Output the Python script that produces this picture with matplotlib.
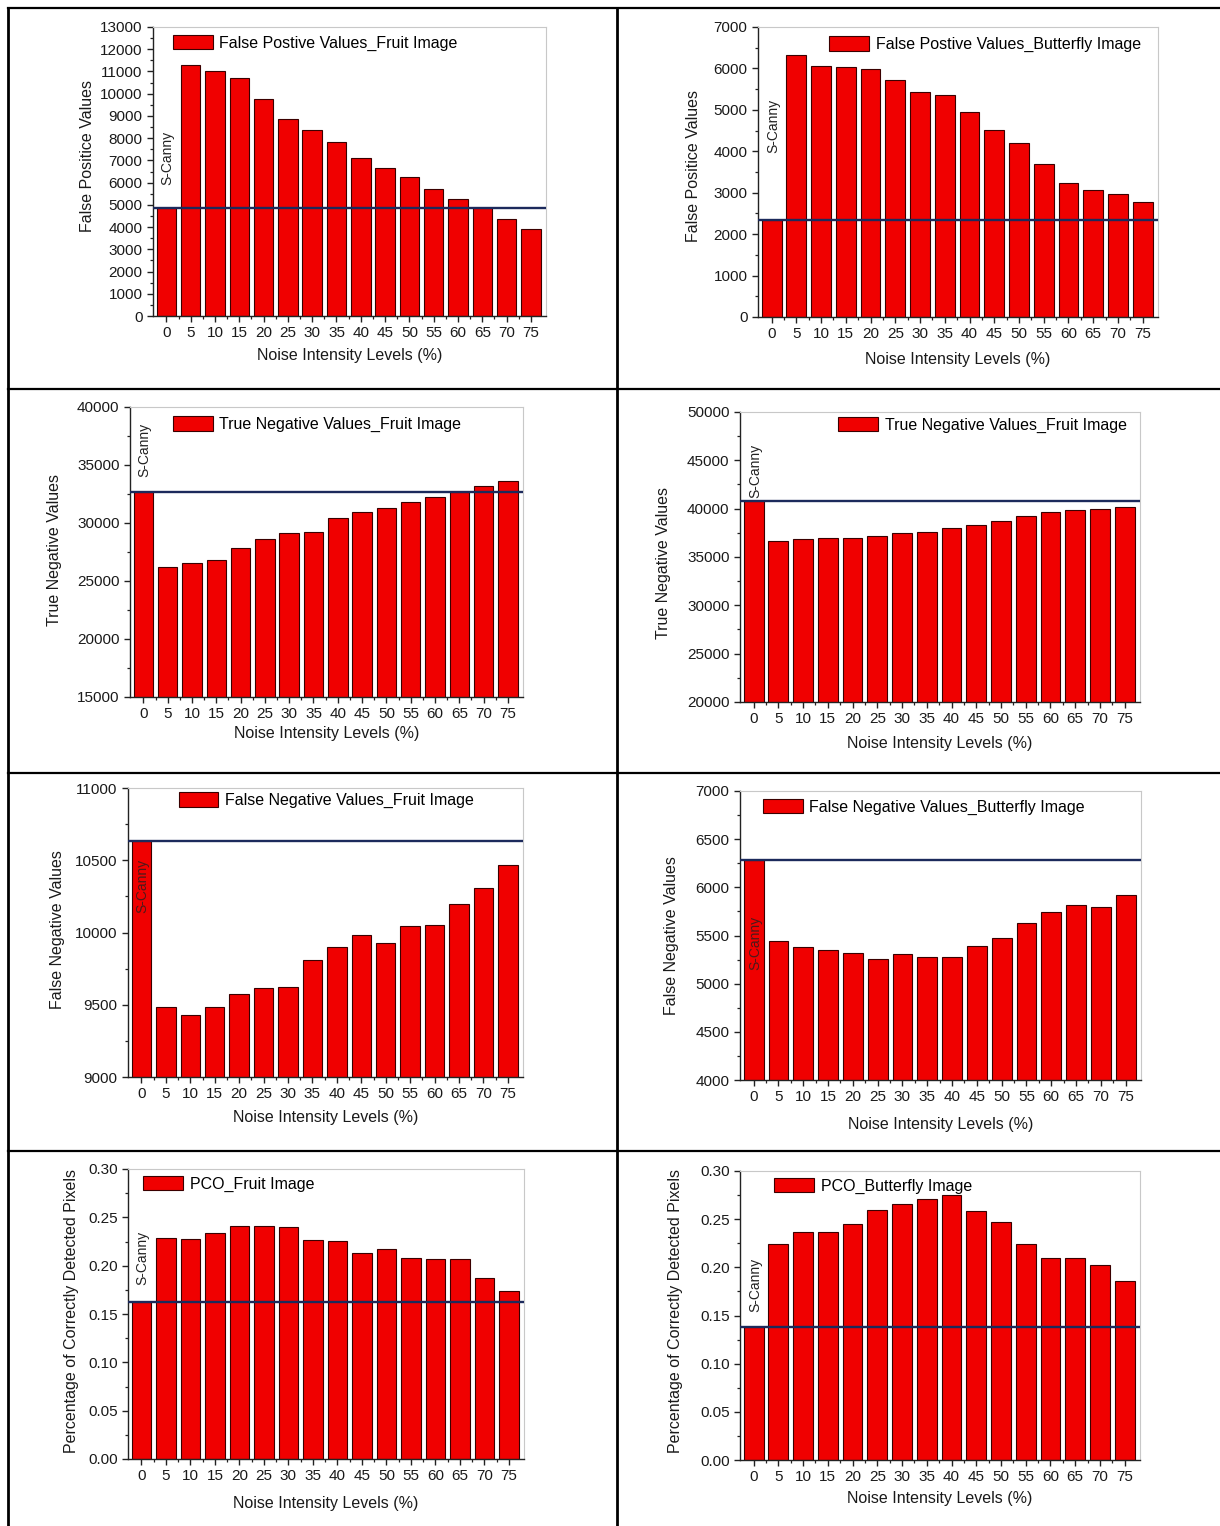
import matplotlib
matplotlib.use('Agg')
import matplotlib.pyplot as plt
from matplotlib.ticker import MultipleLocator, FixedLocator, FormatStrFormatter
from matplotlib.lines import Line2D
import numpy as np

plt.rcParams['font.family'] = ['Liberation Sans', 'DejaVu Sans']

# ---------------- data ----------------
noise_levels = [0, 5, 10, 15, 20, 25, 30, 35, 40, 45, 50, 55, 60, 65, 70, 75]

fp_fruit = [4870, 11280, 11000, 10700, 9750, 8870, 8370, 7830, 7120, 6640,
            6240, 5720, 5270, 4850, 4370, 3900]
fp_butterfly = [2350, 6320, 6070, 6040, 5990, 5730, 5420, 5370, 4960, 4520,
                4200, 3690, 3230, 3060, 2970, 2770]
tn_fruit = [32700, 26250, 26520, 26840, 27820, 28650, 29170, 29260, 30440, 30930,
            31300, 31820, 32280, 32710, 33200, 33630]
tn_butterfly = [40750, 36620, 36860, 36930, 36970, 37210, 37520, 37590, 37970, 38310,
                38720, 39210, 39690, 39860, 39970, 40140]
fn_fruit = [10633, 9487, 9427, 9487, 9577, 9618, 9625, 9812, 9902, 9980,
            9927, 10045, 10052, 10200, 10308, 10470]
fn_butterfly = [6281, 5441, 5379, 5348, 5320, 5258, 5303, 5272, 5282, 5389,
                5469, 5631, 5739, 5821, 5794, 5918]
pco_fruit = [0.1628, 0.229, 0.228, 0.2338, 0.241, 0.2407, 0.2403, 0.2262, 0.226, 0.2128,
             0.2169, 0.2079, 0.2072, 0.2072, 0.1872, 0.1734]
pco_butterfly = [0.1379, 0.2243, 0.2368, 0.2368, 0.2450, 0.2596, 0.2658, 0.2706, 0.2748, 0.2582,
                 0.2475, 0.2243, 0.2101, 0.2101, 0.2029, 0.1853]

legend_labels = ["False Postive Values_Fruit Image",
                 "False Postive Values_Butterfly Image",
                 "True Negative Values_Fruit Image",
                 "True Negative Values_Fruit Image",
                 "False Negative Values_Fruit Image",
                 "False Negative Values_Butterfly Image",
                 "PCO_Fruit Image",
                 "PCO_Butterfly Image"]
y_labels = ["False Positice Values", "False Positice Values",
            "True Negative Values", "True Negative Values",
            "False Negative Values", "False Negative Values",
            "Percentage of Correctly Detected Pixels",
            "Percentage of Correctly Detected Pixels"]
x_label = "Noise Intensity Levels (%)"
method_label = "S-Canny"

series = [fp_fruit, fp_butterfly, tn_fruit, tn_butterfly,
          fn_fruit, fn_butterfly, pco_fruit, pco_butterfly]

# ---------------- layout / style ----------------
W, H = 1220, 1526
fig = plt.figure(figsize=(W / 100, H / 100), dpi=100)

styles = [
    dict(box=(153, 27, 546, 316), ylim=(0, 13000), major=1000, minor=500, fmt='%d',
         leg=(0.051, 0.945), sy=5900, scol='#222222', xpad=5.4, ylc=(87, 156)),
    dict(box=(758, 27, 1158, 317), ylim=(0, 7000), major=1000, minor=500, fmt='%d',
         leg=(0.178, 0.941), sy=3960, scol='#222222', xpad=7.6, ylc=(693, 166)),
    dict(box=(130, 407, 523, 697), ylim=(15000, 40000), major=5000, minor=2500, fmt='%d',
         leg=(0.109, 0.941), sy=33970, scol='#222222', xpad=3.3, ylc=(54, 550)),
    dict(box=(740, 412, 1140, 702), ylim=(20000, 50000), major=5000, minor=2500, fmt='%d',
         leg=(0.246, 0.955), sy=41100, scol='#222222', xpad=6.9, ylc=(663, 563)),
    dict(box=(128, 788, 523, 1077), ylim=(9000, 11000), major=500, minor=250, fmt='%d',
         leg=(0.128, 0.958), sy=10135, scol='#4d1a1a', xpad=6.2, ylc=(57, 930)),
    dict(box=(740, 791, 1141, 1080), ylim=(4000, 7000), major=500, minor=250, fmt='%d',
         leg=(0.057, 0.945), sy=5140, scol='#4d1a1a', xpad=9.0, ylc=(671, 936)),
    dict(box=(128, 1169, 524, 1459), ylim=(0, 0.30), major=0.05, minor=0.025, fmt='%.2f',
         leg=(0.039, 0.948), sy=0.18, scol='#222222', xpad=9.0, ylc=(71, 1311)),
    dict(box=(740, 1171, 1140, 1460), ylim=(0, 0.30), major=0.05, minor=0.025, fmt='%.2f',
         leg=(0.086, 0.948), sy=0.1536, scol='#222222', xpad=4.7, ylc=(675, 1311)),
]

x = np.arange(len(noise_levels))

for vals, leg_label, ylab, st in zip(series, legend_labels, y_labels, styles):
    l, t, r, b = st['box']
    ax = fig.add_axes([l / W, 1 - b / H, (r - l) / W, (b - t) / H])
    ax.bar(x, vals, width=0.8, color='#f00000', edgecolor='#3a0000',
           linewidth=0.8, label=leg_label, zorder=2)
    ax.axhline(vals[0], color='#1c2a5c', lw=1.7, zorder=3)
    ax.set_xlim(-0.55, 15.62)
    ax.set_ylim(*st['ylim'])
    ax.set_xticks(x)
    ax.set_xticklabels([str(n) for n in noise_levels])
    ax.xaxis.set_minor_locator(FixedLocator(x[:-1] + 0.5))
    ax.yaxis.set_major_locator(MultipleLocator(st['major']))
    ax.yaxis.set_minor_locator(MultipleLocator(st['minor']))
    ax.yaxis.set_major_formatter(FormatStrFormatter(st['fmt']))
    ax.tick_params(which='major', direction='out', length=4, width=1,
                   labelsize=11, color='#222222', labelcolor='#1a1a1a')
    ax.tick_params(which='minor', direction='out', length=2.5, width=0.9,
                   color='#222222')
    ax.tick_params(top=False, right=False, which='both')
    for s in ('top', 'right'):
        ax.spines[s].set_color('#c8c8c8')
        ax.spines[s].set_linewidth(0.8)
    for s in ('left', 'bottom'):
        ax.spines[s].set_color('#222222')
        ax.spines[s].set_linewidth(1.0)
    ax.set_ylabel(ylab, fontsize=11.5, color='#1a1a1a')
    xc, yc = st['ylc']
    ax.yaxis.set_label_coords((xc + 8 - l) / (r - l), (b - yc) / (b - t))
    ax.set_xlabel(x_label, fontsize=11.5, color='#1a1a1a', labelpad=st['xpad'])
    ax.text(0.05, st['sy'], method_label, rotation=90, ha='center', va='bottom',
            fontsize=10, color=st['scol'], zorder=4)
    ax.legend(loc='center left', bbox_to_anchor=st['leg'], frameon=False,
              fontsize=11.5, handlelength=2.5, handleheight=1.0,
              borderpad=0, borderaxespad=0, handletextpad=0.4)

# table borders
def fig_line(x0, y0, x1, y1, lw=2.0):
    fig.add_artist(Line2D([x0 / W, x1 / W], [1 - y0 / H, 1 - y1 / H],
                          transform=fig.transFigure, color='black', lw=lw))

fig_line(8, 8, 8, H)
fig_line(617, 8, 617, H)
for yy in (8, 389, 773, 1151):
    fig_line(8, yy, W, yy, lw=1.6)

fig.savefig('out.png', dpi=100, facecolor='white')
